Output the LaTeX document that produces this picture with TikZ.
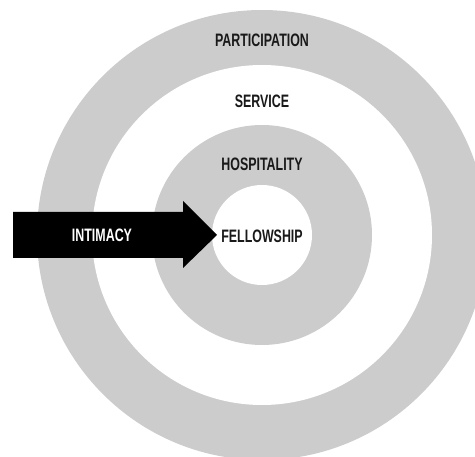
\documentclass[tikz,border=0pt]{standalone}
\usepackage{fontspec}
\setmainfont{Liberation Sans}[FakeStretch=0.69]
\usepackage{xcolor}
\usetikzlibrary{calc,positioning}
\definecolor{ringgray}{gray}{0.8}
\tikzset{
	ring/.style={circle, fill=#1, draw=none, inner sep=0pt, outer sep=0pt},
	ring radius/.style={minimum size=2*#1},
	ring label/.style={font=\bfseries\fontsize{18}{18}\selectfont, text=black!90, inner sep=0pt},
	big arrow/.style={fill=black, draw=none}
}
\begin{document}
\begin{tikzpicture}[x=1pt, y=-1pt]
	\useasboundingbox (0,0) rectangle (475,457);
	\clip (0,0) rectangle (475,457);
	\fill[white] (0,0) rectangle (475,457);
	\coordinate (c) at (262,235);
	\node[ring=ringgray, ring radius=225pt] (participation) at (c) {};
	\node[ring=white, ring radius=170pt] (service) at (c) {};
	\node[ring=ringgray, ring radius=110pt] (hospitality) at (c) {};
	\node[ring=white, ring radius=50pt] (fellowship) at (c) {};
	\node[ring label] (participation label) at (262,40) {PARTICIPATION};
	\node[ring label] (service label) at (262,101) {SERVICE};
	\node[ring label] (hospitality label) at (262,164) {HOSPITALITY};
	\node[ring label] (fellowship label) at (262,236.5) {FELLOWSHIP};
	\coordinate (tip) at ([xshift=5pt]fellowship.west);
	\fill[big arrow] (13,212) -- (183,212) -- (183,201) -- (tip) -- (183,268) -- (183,258) -- (13,258) -- cycle;
	\node[ring label, text=white] (intimacy label) at (102,235) {INTIMACY};
\end{tikzpicture}
\end{document}
